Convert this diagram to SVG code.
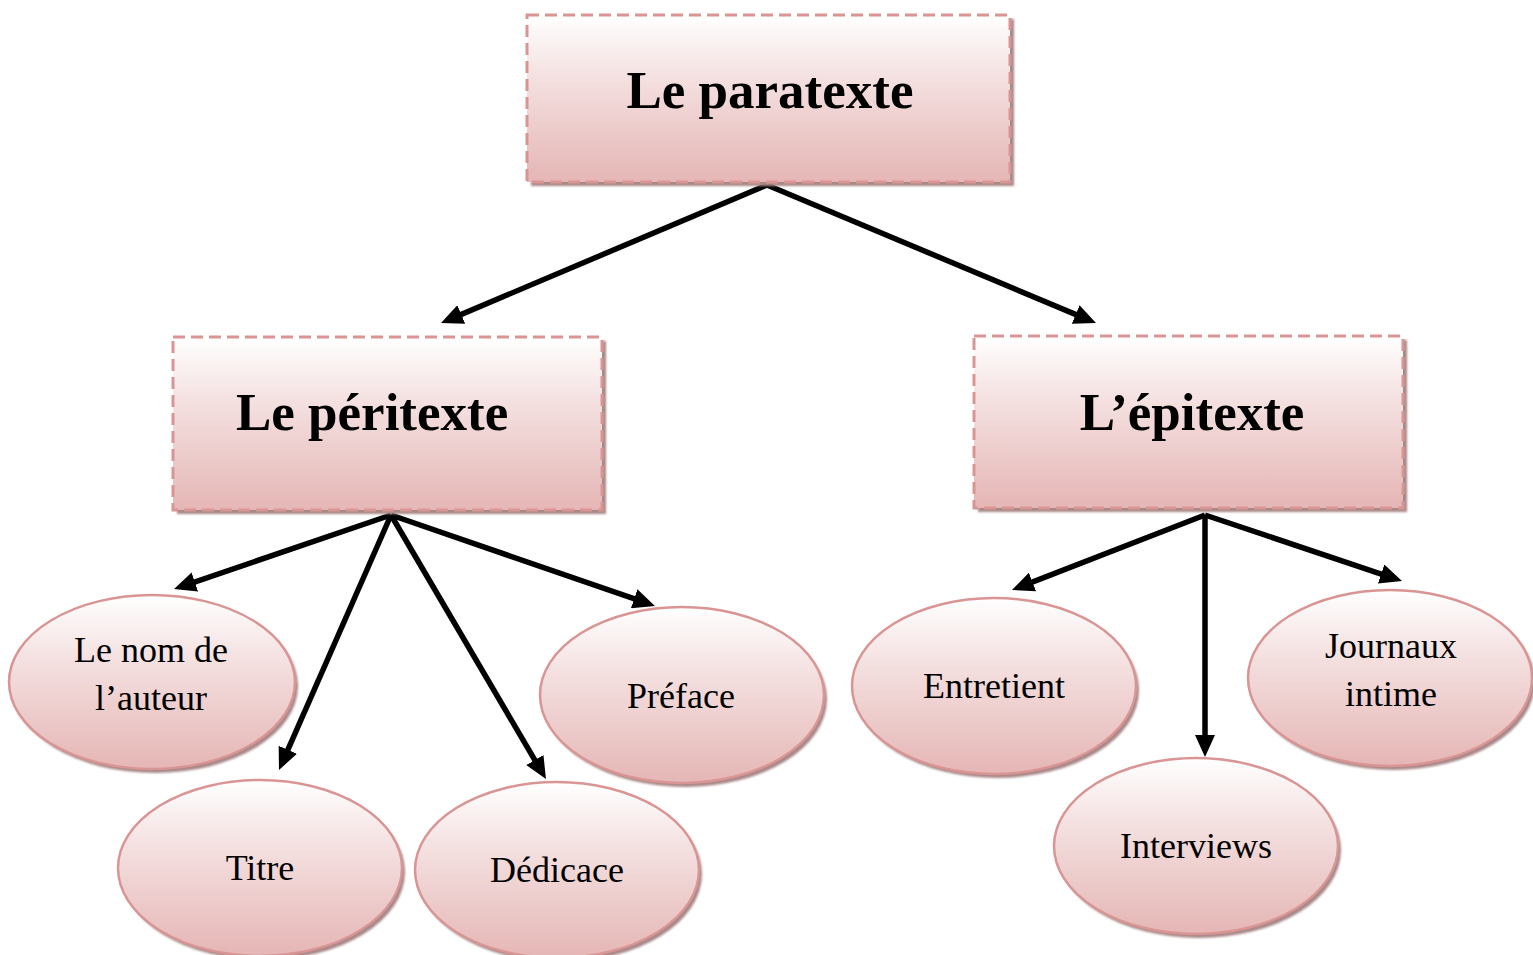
<svg xmlns="http://www.w3.org/2000/svg" width="1533" height="955" viewBox="0 0 1533 955">
<defs>
<linearGradient id="g" x1="0" y1="0" x2="0" y2="1">
<stop offset="0" stop-color="#ffffff"/>
<stop offset="0.35" stop-color="#f5e2e2"/>
<stop offset="1" stop-color="#e5b6b5"/>
</linearGradient>
<filter id="sh" x="-10%" y="-10%" width="120%" height="120%"><feGaussianBlur stdDeviation="1.2"/></filter>
<marker id="ah" markerUnits="userSpaceOnUse" markerWidth="22" markerHeight="20" viewBox="0 0 22 20" refX="12" refY="10" orient="auto">
<path d="M0,0 L22,10 L0,20 z" fill="#000"/>
</marker>
</defs>
<style>
.box{fill:url(#g);stroke:#d99594;stroke-width:3;stroke-dasharray:12 6}
.ell{fill:url(#g);stroke:#d99594;stroke-width:2.5}
.shd{fill:#a98888;filter:url(#sh)}
.big{font-family:"Liberation Serif","Times New Roman",serif;font-weight:bold;font-size:53px;fill:#000}
.sm{font-family:"Liberation Serif","Times New Roman",serif;font-size:36px;fill:#000;text-anchor:middle}
.c{stroke:#000;stroke-width:5.5;fill:none;marker-end:url(#ah)}
</style>
<rect width="1533" height="955" fill="#fff"/>
<g id="connectors">
<line class="c" x1="767" y1="185" x2="450.2" y2="319.1"/>
<line class="c" x1="767" y1="185" x2="1086.8" y2="319.1"/>
<line class="c" x1="391" y1="515" x2="183.5" y2="585.8"/>
<line class="c" x1="391" y1="515" x2="283" y2="760.8"/>
<line class="c" x1="391" y1="515" x2="540.9" y2="770.4"/>
<line class="c" x1="391" y1="515" x2="645.5" y2="602.7"/>
<line class="c" x1="1205" y1="515" x2="1021.3" y2="586.4"/>
<line class="c" x1="1205" y1="515" x2="1205" y2="747"/>
<line class="c" x1="1205" y1="515" x2="1392.5" y2="577.8"/>
</g>
<g id="paratexte">
<rect class="shd" x="531" y="19" width="483" height="167"/>
<rect class="box" x="527" y="15" width="483" height="167"/>
<text class="big" x="770" y="108" text-anchor="middle">Le paratexte</text>
</g>
<g id="peritexte">
<rect class="shd" x="177" y="341" width="429" height="173"/>
<rect class="box" x="173" y="337" width="429" height="173"/>
<text class="big" x="236" y="430">Le péritexte</text>
</g>
<g id="epitexte">
<rect class="shd" x="978" y="340" width="429" height="172"/>
<rect class="box" x="974" y="336" width="429" height="172"/>
<text class="big" x="1192" y="430" text-anchor="middle">L’épitexte</text>
</g>
<g id="nom-auteur">
<ellipse class="shd" cx="155" cy="686" rx="143" ry="87"/>
<ellipse class="ell" cx="152" cy="682" rx="143" ry="87"/>
<text class="sm" x="151" y="662">Le nom de</text>
<text class="sm" x="151" y="710">l’auteur</text>
</g>
<g id="titre">
<ellipse class="shd" cx="263" cy="872" rx="142" ry="88"/>
<ellipse class="ell" cx="260" cy="868" rx="142" ry="88"/>
<text class="sm" x="260" y="880">Titre</text>
</g>
<g id="dedicace">
<ellipse class="shd" cx="560" cy="874" rx="142" ry="88"/>
<ellipse class="ell" cx="557" cy="870" rx="142" ry="88"/>
<text class="sm" x="557" y="882">Dédicace</text>
</g>
<g id="preface">
<ellipse class="shd" cx="685" cy="699" rx="142" ry="88"/>
<ellipse class="ell" cx="682" cy="695" rx="142" ry="88"/>
<text class="sm" x="681" y="708">Préface</text>
</g>
<g id="entretient">
<ellipse class="shd" cx="997" cy="690" rx="142" ry="88"/>
<ellipse class="ell" cx="994" cy="686" rx="142" ry="88"/>
<text class="sm" x="994" y="698">Entretient</text>
</g>
<g id="interviews">
<ellipse class="shd" cx="1199" cy="850" rx="142" ry="88"/>
<ellipse class="ell" cx="1196" cy="846" rx="142" ry="88"/>
<text class="sm" x="1196" y="858">Interviews</text>
</g>
<g id="journaux">
<ellipse class="shd" cx="1393" cy="682" rx="142" ry="88"/>
<ellipse class="ell" cx="1390" cy="678" rx="142" ry="88"/>
<text class="sm" x="1391" y="658">Journaux</text>
<text class="sm" x="1391" y="706">intime</text>
</g>
</svg>
